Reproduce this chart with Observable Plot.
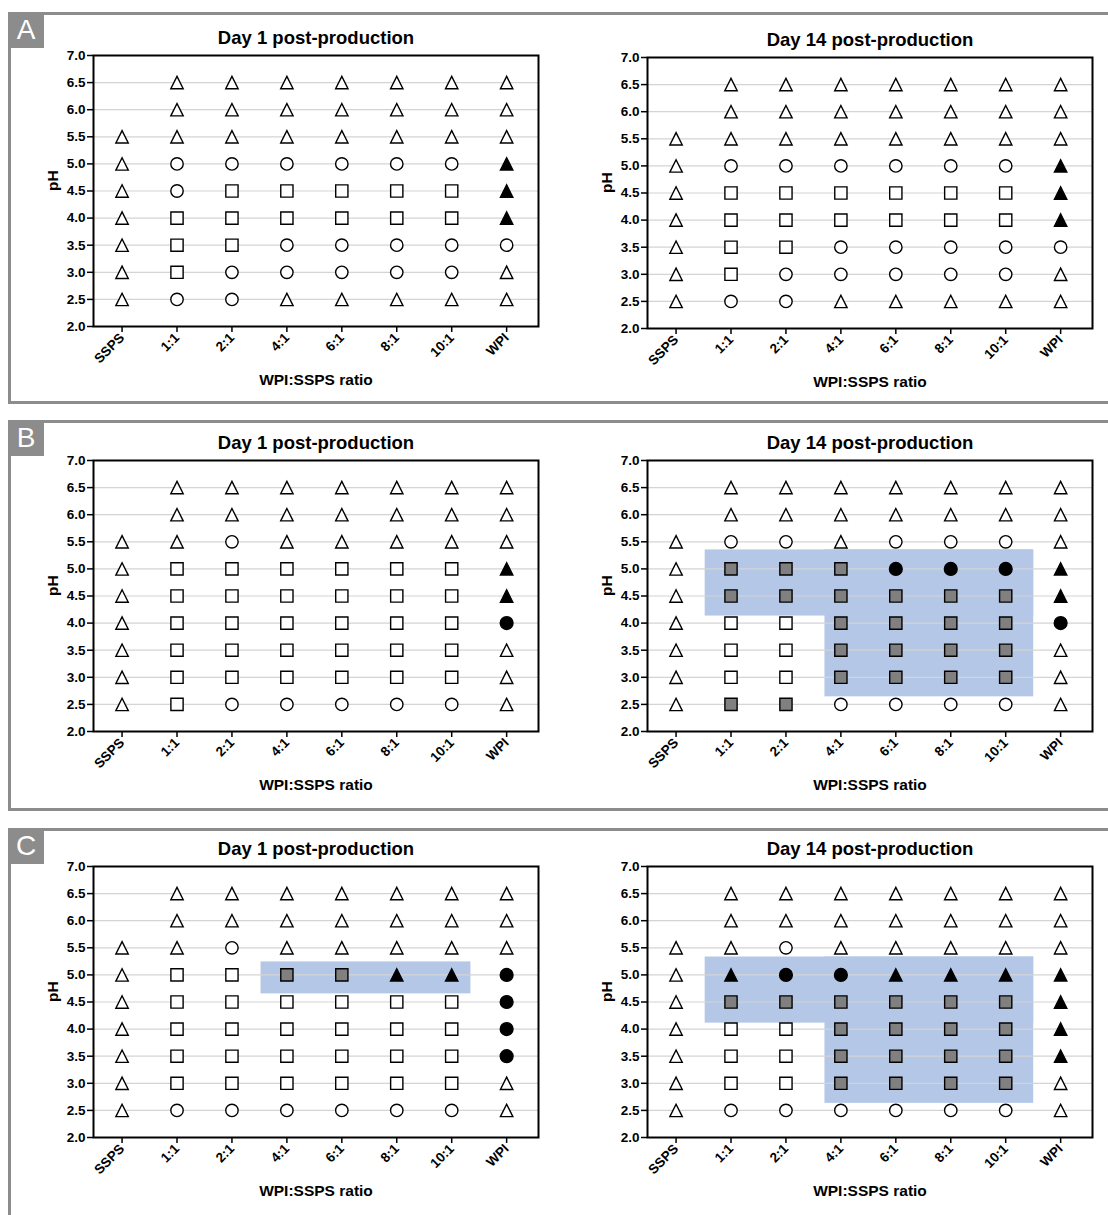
<!DOCTYPE html>
<html>
<head>
<meta charset="utf-8">
<script src="https://cdn.jsdelivr.net/npm/d3@7"></script>
<script src="https://cdn.jsdelivr.net/npm/@observablehq/plot@0.6"></script>
<style>
  body { margin: 0; background: #fff; font-family: "Liberation Sans", Arial, sans-serif; }
  #page { position: relative; width: 1108px; height: 1215px; overflow: hidden; background: #fff; }
  .box { position: absolute; border: 3px solid #8c8c8c; border-right: none; box-sizing: border-box; }
  .tag { position: absolute; width: 36px; height: 36px; background: #8c8c8c; color: #fff;
         font-size: 28px; line-height: 36px; text-align: center; font-family: "Liberation Sans", Arial, sans-serif; }
  .panel { position: absolute; }
</style>
</head>
<body>
<div id="page"></div>
<script>
// Protein blends on the x axis, pH levels on the y axis
const ratios = ["SSPS", "1:1", "2:1", "4:1", "6:1", "8:1", "10:1", "WPI"];
const phLevels = [6.5, 6.0, 5.5, 5.0, 4.5, 4.0, 3.5, 3.0, 2.5];
const phTicks = [2.0, 2.5, 3.0, 3.5, 4.0, 4.5, 5.0, 5.5, 6.0, 6.5, 7.0];

// Observed state per cell, one string per pH row (top to bottom), one char per blend:
// t open triangle, c open circle, s open square,
// T filled triangle, C filled circle, G grey square, . not measured
const panelA_day1 = [".ttttttt", ".ttttttt", "tttttttt", "tccccccT", "tcsssssT", "tssssssT", "tssccccc", "tsccccct", "tccttttt"];
const panelA_day14 = [".ttttttt", ".ttttttt", "tttttttt", "tccccccT", "tssssssT", "tssssssT", "tssccccc", "tsccccct", "tccttttt"];
const panelB_day1 = [".ttttttt", ".ttttttt", "ttcttttt", "tssssssT", "tssssssT", "tssssssC", "tsssssst", "tsssssst", "tsccccct"];
const panelB_day14 = [".ttttttt", ".ttttttt", "tcctccct", "tGGGCCCT", "tGGGGGGT", "tssGGGGC", "tssGGGGt", "tssGGGGt", "tGGcccct"];
const panelC_day1 = [".ttttttt", ".ttttttt", "ttcttttt", "tssGGTTC", "tssssssC", "tssssssC", "tssssssC", "tsssssst", "tcccccct"];
const panelC_day14 = [".ttttttt", ".ttttttt", "ttcttttt", "tTCCTTTT", "tGGGGGGT", "tssGGGGT", "tssGGGGT", "tssGGGGt", "tcccccct"];

// Highlighted zones (blend index and pH bounds)
const zoneB_day14 = [
  {x1: 0.53, x2: 6.51, y1: 4.13, y2: 5.35},
  {x1: 2.71, x2: 6.51, y1: 2.64, y2: 5.35}
];
const zoneC_day1 = [
  {x1: 2.53, x2: 6.35, y1: 4.65, y2: 5.24}
];
const zoneC_day14 = [
  {x1: 0.53, x2: 6.51, y1: 4.11, y2: 5.33},
  {x1: 2.71, x2: 6.51, y1: 2.63, y2: 5.33}
];

// Isosceles triangle with equal width and height
const triangle = {
  draw(context, size) {
    const a = Math.sqrt(size) / 2;
    context.moveTo(0, -a);
    context.lineTo(a, a);
    context.lineTo(-a, a);
    context.closePath();
  }
};

const symbolStyles = {
  t: {symbol: triangle, r: 7.0, fill: "white", stroke: "black"},
  T: {symbol: triangle, r: 7.0, fill: "black", stroke: "black"},
  c: {symbol: "circle", r: 6.2, fill: "white", stroke: "black"},
  C: {symbol: "circle", r: 6.4, fill: "black", stroke: "black"},
  s: {symbol: "square", r: 6.9, fill: "white", stroke: "black"},
  G: {symbol: "square", r: 6.9, fill: "#808080", stroke: "black"}
};

function cells(rows) {
  const out = [];
  rows.forEach((row, i) => {
    [...row].forEach((code, j) => {
      if (code !== ".") out.push({ratio: j, ph: phLevels[i], code});
    });
  });
  return out;
}

function panel({rows, zones = [], title}) {
  const data = cells(rows);
  const dots = Object.entries(symbolStyles).map(([code, st]) =>
    Plot.dot(data.filter(d => d.code === code), {x: "ratio", y: "ph", strokeWidth: 1.4, ...st})
  );
  return Plot.plot({
    width: 514,
    height: 381,
    marginTop: 40,
    marginBottom: 70,
    marginLeft: 55,
    marginRight: 14,
    style: {fontFamily: "'Liberation Sans', Arial, sans-serif", fontSize: "13px", fontWeight: "bold", color: "black", background: "transparent", overflow: "visible"},
    x: {domain: [-0.52, 7.58]},
    y: {domain: [2, 7]},
    marks: [
      Plot.rect(zones, {x1: "x1", x2: "x2", y1: "y1", y2: "y2", fill: "#b4c7e7"}),
      Plot.gridY(phLevels, {stroke: "#d4d4d4", strokeOpacity: 1, strokeWidth: 1.2}),
      Plot.axisX({ticks: d3.range(ratios.length), tickFormat: i => ratios[i], tickRotate: -45, tickSize: 6, tickPadding: 3, label: null, strokeWidth: 1.5, fontSize: 13.5, fontWeight: "bold"}),
      Plot.axisY({ticks: phTicks, tickFormat: d3.format(".1f"), tickSize: 6, tickPadding: 2, label: null, strokeWidth: 1.5, fontSize: 13.5, fontWeight: "bold"}),
      ...dots,
      Plot.frame({stroke: "black", strokeWidth: 2}),
      Plot.text([title], {text: d => d, frameAnchor: "top", lineAnchor: "middle", dy: -17, fontSize: 18.5, fontWeight: "bold"}),
      Plot.text(["WPI:SSPS ratio"], {text: d => d, frameAnchor: "bottom", lineAnchor: "middle", dy: 54, fontSize: 15.5, fontWeight: "bold"}),
      Plot.text(["pH"], {text: d => d, frameAnchor: "left", lineAnchor: "middle", dx: -40, rotate: -90, fontSize: 15.5, fontWeight: "bold"})
    ]
  });
}

const page = document.getElementById("page");

function addBox(letter, top, height) {
  const box = document.createElement("div");
  box.className = "box";
  Object.assign(box.style, {left: "8px", top: top + "px", width: "1200px", height: height + "px"});
  page.appendChild(box);
  const tag = document.createElement("div");
  tag.className = "tag";
  tag.textContent = letter;
  Object.assign(tag.style, {left: "8px", top: top + "px"});
  page.appendChild(tag);
}

addBox("A", 12, 392);
addBox("B", 420, 391);
addBox("C", 828, 500);

const layout = [
  {rows: panelA_day1, title: "Day 1 post-production", left: 38, top: 15},
  {rows: panelA_day14, title: "Day 14 post-production", left: 592, top: 17},
  {rows: panelB_day1, title: "Day 1 post-production", left: 38, top: 420},
  {rows: panelB_day14, zones: zoneB_day14, title: "Day 14 post-production", left: 592, top: 420},
  {rows: panelC_day1, zones: zoneC_day1, title: "Day 1 post-production", left: 38, top: 826},
  {rows: panelC_day14, zones: zoneC_day14, title: "Day 14 post-production", left: 592, top: 826}
];

for (const p of layout) {
  const svg = panel(p);
  svg.classList.add("panel");
  svg.style.left = p.left + "px";
  svg.style.top = p.top + "px";
  svg.style.position = "absolute";
  page.appendChild(svg);
}
</script>
</body>
</html>
